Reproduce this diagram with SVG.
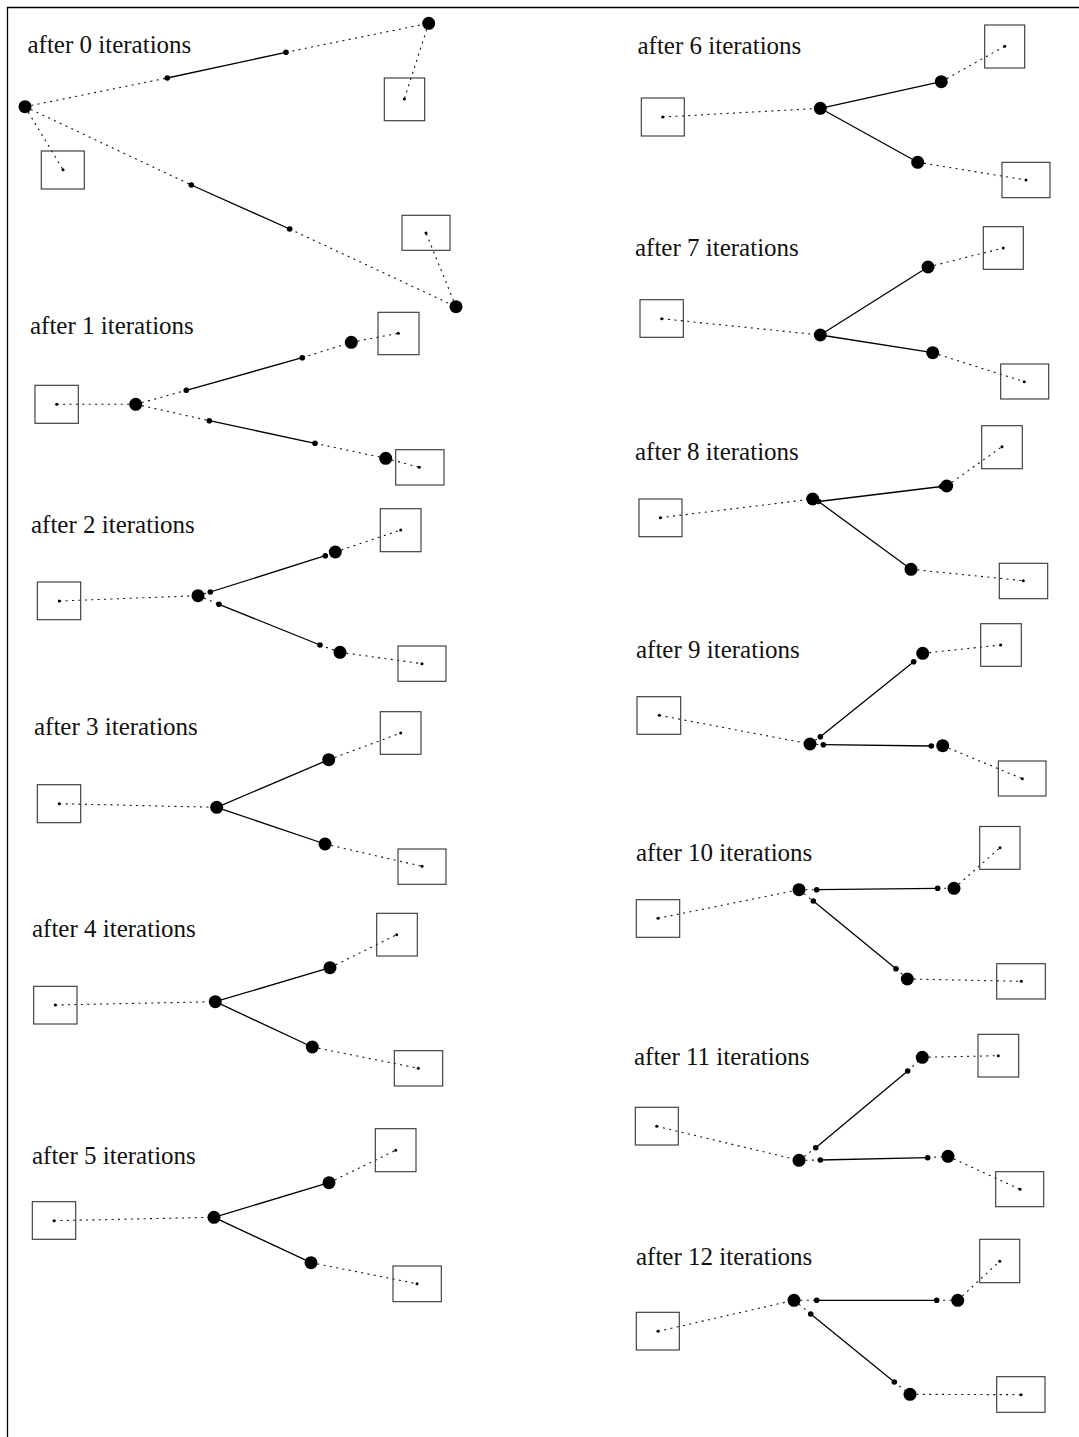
<svg xmlns="http://www.w3.org/2000/svg" width="1079" height="1437" viewBox="0 0 1079 1437">
  <style>
    .bg { fill: #ffffff; }
    .frame { fill: none; stroke: #000; stroke-width: 1.3; }
    .title { font-family: "Liberation Serif", "Times New Roman", serif; font-size: 25px; fill: #111; }
    .dot { fill: none; stroke: #111; stroke-width: 1.1; stroke-dasharray: 2 4.4; }
    .wire { fill: none; stroke: #000; stroke-width: 1.3; }
    .pin { fill: none; stroke: #333; stroke-width: 1.1; }
    .pd { fill: #000; }
    .sp { fill: #000; }
    .bd { fill: #000; }
  </style>
  <rect class="bg" x="0" y="0" width="1079" height="1437"/>
  <path class="frame" d="M7.5 1437 V7.5 H1079"/>

  <!-- iteration 0 -->
  <g id="iter0">
    <text class="title" x="27.5" y="52.5">after 0 iterations</text>
    <g id="iter0-connectors">
      <line class="dot" x1="25" y1="106.7" x2="167.3" y2="78"/>
      <line class="wire" x1="167.3" y1="78" x2="286" y2="52.3"/>
      <line class="dot" x1="286" y1="52.3" x2="428.7" y2="23.3"/>
      <line class="dot" x1="428.7" y1="23.3" x2="404.3" y2="99"/>
      <line class="dot" x1="25" y1="106.7" x2="63" y2="169.7"/>
      <line class="dot" x1="25" y1="106.7" x2="191.3" y2="185"/>
      <line class="wire" x1="191.3" y1="185" x2="289.7" y2="229"/>
      <line class="dot" x1="289.7" y1="229" x2="456" y2="306.7"/>
      <line class="dot" x1="456" y1="306.7" x2="426" y2="233"/>
    </g>
    <g id="iter0-pin-a"><rect class="pin" x="41.3" y="151" width="43" height="38"/><circle class="pd" cx="63" cy="169.7" r="1.5"/></g>
    <g id="iter0-pin-b"><rect class="pin" x="384.3" y="78" width="40.4" height="42.7"/><circle class="pd" cx="404.3" cy="99" r="1.5"/></g>
    <g id="iter0-pin-c"><rect class="pin" x="402" y="215.3" width="48" height="35"/><circle class="pd" cx="426" cy="233" r="1.5"/></g>
    <g id="iter0-s1"><circle class="sp" cx="25" cy="106.7" r="6.5"/></g>
    <g id="iter0-s2"><circle class="sp" cx="428.7" cy="23.3" r="6.5"/></g>
    <g id="iter0-s3"><circle class="sp" cx="456" cy="306.7" r="6.5"/></g>
    <g id="iter0-bends">
      <circle class="bd" cx="167.3" cy="78" r="2.8"/>
      <circle class="bd" cx="286" cy="52.3" r="2.8"/>
      <circle class="bd" cx="191.3" cy="185" r="2.8"/>
      <circle class="bd" cx="289.7" cy="229" r="2.8"/>
    </g>
  </g>

  <!-- iteration 1 -->
  <g id="iter1">
    <text class="title" x="30" y="333.5">after 1 iterations</text>
    <g id="iter1-connectors">
      <line class="dot" x1="56.7" y1="404.3" x2="135.7" y2="404.3"/>
      <line class="dot" x1="135.7" y1="404.3" x2="186.3" y2="390.3"/>
      <line class="wire" x1="186.3" y1="390.3" x2="302.3" y2="357.7"/>
      <line class="dot" x1="302.3" y1="357.7" x2="351.3" y2="342.3"/>
      <line class="dot" x1="351.3" y1="342.3" x2="398.3" y2="333.3"/>
      <line class="dot" x1="135.7" y1="404.3" x2="209.3" y2="420.7"/>
      <line class="wire" x1="209.3" y1="420.7" x2="315" y2="443.3"/>
      <line class="dot" x1="315" y1="443.3" x2="385.7" y2="458.3"/>
      <line class="dot" x1="385.7" y1="458.3" x2="419.3" y2="467.3"/>
    </g>
    <g id="iter1-pin-a"><rect class="pin" x="35" y="385.3" width="43.3" height="38"/><circle class="pd" cx="56.7" cy="404.3" r="1.5"/></g>
    <g id="iter1-pin-b"><rect class="pin" x="378" y="312.3" width="41" height="42.4"/><circle class="pd" cx="398.3" cy="333.3" r="1.5"/></g>
    <g id="iter1-pin-c"><rect class="pin" x="395.7" y="449.7" width="48.3" height="35.3"/><circle class="pd" cx="419.3" cy="467.3" r="1.5"/></g>
    <g id="iter1-s1"><circle class="sp" cx="135.7" cy="404.3" r="6.5"/></g>
    <g id="iter1-s2"><circle class="sp" cx="351.3" cy="342.3" r="6.5"/></g>
    <g id="iter1-s3"><circle class="sp" cx="385.7" cy="458.3" r="6.5"/></g>
    <g id="iter1-bends">
      <circle class="bd" cx="186.3" cy="390.3" r="2.8"/>
      <circle class="bd" cx="302.3" cy="357.7" r="2.8"/>
      <circle class="bd" cx="209.3" cy="420.7" r="2.8"/>
      <circle class="bd" cx="315" cy="443.3" r="2.8"/>
    </g>
  </g>

  <!-- iteration 2 -->
  <g id="iter2">
    <text class="title" x="31" y="532.5">after 2 iterations</text>
    <g id="iter2-connectors">
      <line class="dot" x1="59.3" y1="601" x2="198" y2="595.7"/>
      <line class="dot" x1="198" y1="595.7" x2="210.3" y2="592"/>
      <line class="wire" x1="210.3" y1="592" x2="325.3" y2="555.7"/>
      <line class="dot" x1="325.3" y1="555.7" x2="335.3" y2="552"/>
      <line class="dot" x1="335.3" y1="552" x2="400.7" y2="530"/>
      <line class="dot" x1="198" y1="595.7" x2="219" y2="604.3"/>
      <line class="wire" x1="219" y1="604.3" x2="320" y2="645"/>
      <line class="dot" x1="320" y1="645" x2="340" y2="652.3"/>
      <line class="dot" x1="340" y1="652.3" x2="422" y2="663.7"/>
    </g>
    <g id="iter2-pin-a"><rect class="pin" x="37.3" y="582" width="43.4" height="37.7"/><circle class="pd" cx="59.3" cy="601" r="1.5"/></g>
    <g id="iter2-pin-b"><rect class="pin" x="380.3" y="508.7" width="40.7" height="43"/><circle class="pd" cx="400.7" cy="530" r="1.5"/></g>
    <g id="iter2-pin-c"><rect class="pin" x="398" y="646" width="48" height="35.3"/><circle class="pd" cx="422" cy="663.7" r="1.5"/></g>
    <g id="iter2-s1"><circle class="sp" cx="198" cy="595.7" r="6.5"/></g>
    <g id="iter2-s2"><circle class="sp" cx="335.3" cy="552" r="6.5"/></g>
    <g id="iter2-s3"><circle class="sp" cx="340" cy="652.3" r="6.5"/></g>
    <g id="iter2-bends">
      <circle class="bd" cx="210.3" cy="592" r="2.8"/>
      <circle class="bd" cx="325.3" cy="555.7" r="2.8"/>
      <circle class="bd" cx="219" cy="604.3" r="2.8"/>
      <circle class="bd" cx="320" cy="645" r="2.8"/>
    </g>
  </g>

  <!-- iteration 3 -->
  <g id="iter3">
    <text class="title" x="34" y="734.5">after 3 iterations</text>
    <g id="iter3-connectors">
      <line class="dot" x1="59.3" y1="803.7" x2="216.7" y2="807.3"/>
      <line class="wire" x1="216.7" y1="807.3" x2="328.7" y2="759.7"/>
      <line class="dot" x1="328.7" y1="759.7" x2="400.7" y2="733"/>
      <line class="wire" x1="216.7" y1="807.3" x2="325" y2="844"/>
      <line class="dot" x1="325" y1="844" x2="422" y2="866.3"/>
    </g>
    <g id="iter3-pin-a"><rect class="pin" x="37.3" y="784.7" width="43.4" height="38"/><circle class="pd" cx="59.3" cy="803.7" r="1.5"/></g>
    <g id="iter3-pin-b"><rect class="pin" x="380.3" y="711.7" width="40.7" height="42.6"/><circle class="pd" cx="400.7" cy="733" r="1.5"/></g>
    <g id="iter3-pin-c"><rect class="pin" x="398" y="849" width="48" height="35.3"/><circle class="pd" cx="422" cy="866.3" r="1.5"/></g>
    <g id="iter3-s1"><circle class="sp" cx="216.7" cy="807.3" r="6.5"/></g>
    <g id="iter3-s2"><circle class="sp" cx="328.7" cy="759.7" r="6.5"/></g>
    <g id="iter3-s3"><circle class="sp" cx="325" cy="844" r="6.5"/></g>
  </g>

  <!-- iteration 4 -->
  <g id="iter4">
    <text class="title" x="32" y="937">after 4 iterations</text>
    <g id="iter4-connectors">
      <line class="dot" x1="55.3" y1="1005" x2="215.3" y2="1001.7"/>
      <line class="wire" x1="215.3" y1="1001.7" x2="330" y2="967.7"/>
      <line class="dot" x1="330" y1="967.7" x2="396.7" y2="934.7"/>
      <line class="wire" x1="215.3" y1="1001.7" x2="312.3" y2="1047"/>
      <line class="dot" x1="312.3" y1="1047" x2="418.3" y2="1068.3"/>
    </g>
    <g id="iter4-pin-a"><rect class="pin" x="33.7" y="986.3" width="43.3" height="37.7"/><circle class="pd" cx="55.3" cy="1005" r="1.5"/></g>
    <g id="iter4-pin-b"><rect class="pin" x="376.7" y="913.3" width="40.6" height="42.7"/><circle class="pd" cx="396.7" cy="934.7" r="1.5"/></g>
    <g id="iter4-pin-c"><rect class="pin" x="394.3" y="1050.7" width="48.4" height="35.3"/><circle class="pd" cx="418.3" cy="1068.3" r="1.5"/></g>
    <g id="iter4-s1"><circle class="sp" cx="215.3" cy="1001.7" r="6.5"/></g>
    <g id="iter4-s2"><circle class="sp" cx="330" cy="967.7" r="6.5"/></g>
    <g id="iter4-s3"><circle class="sp" cx="312.3" cy="1047" r="6.5"/></g>
  </g>

  <!-- iteration 5 -->
  <g id="iter5">
    <text class="title" x="32" y="1163.5">after 5 iterations</text>
    <g id="iter5-connectors">
      <line class="dot" x1="54" y1="1220.7" x2="214" y2="1217.3"/>
      <line class="wire" x1="214" y1="1217.3" x2="329" y2="1182.7"/>
      <line class="dot" x1="329" y1="1182.7" x2="395.7" y2="1150.3"/>
      <line class="wire" x1="214" y1="1217.3" x2="311" y2="1262.7"/>
      <line class="dot" x1="311" y1="1262.7" x2="417" y2="1283.7"/>
    </g>
    <g id="iter5-pin-a"><rect class="pin" x="32.3" y="1201.7" width="43.4" height="37.6"/><circle class="pd" cx="54" cy="1220.7" r="1.5"/></g>
    <g id="iter5-pin-b"><rect class="pin" x="375.3" y="1128.7" width="40.7" height="43"/><circle class="pd" cx="395.7" cy="1150.3" r="1.5"/></g>
    <g id="iter5-pin-c"><rect class="pin" x="393" y="1266" width="48.3" height="35.7"/><circle class="pd" cx="417" cy="1283.7" r="1.5"/></g>
    <g id="iter5-s1"><circle class="sp" cx="214" cy="1217.3" r="6.5"/></g>
    <g id="iter5-s2"><circle class="sp" cx="329" cy="1182.7" r="6.5"/></g>
    <g id="iter5-s3"><circle class="sp" cx="311" cy="1262.7" r="6.5"/></g>
  </g>

  <!-- iteration 6 -->
  <g id="iter6">
    <text class="title" x="637.5" y="53.5">after 6 iterations</text>
    <g id="iter6-connectors">
      <line class="dot" x1="662.7" y1="117" x2="820.3" y2="108.3"/>
      <line class="wire" x1="820.3" y1="108.3" x2="941.3" y2="81.7"/>
      <line class="dot" x1="941.3" y1="81.7" x2="1004.7" y2="46.3"/>
      <line class="wire" x1="820.3" y1="108.3" x2="917.7" y2="162.3"/>
      <line class="dot" x1="917.7" y1="162.3" x2="1026" y2="180"/>
    </g>
    <g id="iter6-pin-a"><rect class="pin" x="641.3" y="98" width="43" height="38"/><circle class="pd" cx="662.7" cy="117" r="1.5"/></g>
    <g id="iter6-pin-b"><rect class="pin" x="984.7" y="25" width="40" height="43"/><circle class="pd" cx="1004.7" cy="46.3" r="1.5"/></g>
    <g id="iter6-pin-c"><rect class="pin" x="1002" y="162.3" width="48" height="35.4"/><circle class="pd" cx="1026" cy="180" r="1.5"/></g>
    <g id="iter6-s1"><circle class="sp" cx="820.3" cy="108.3" r="6.5"/></g>
    <g id="iter6-s2"><circle class="sp" cx="941.3" cy="81.7" r="6.5"/></g>
    <g id="iter6-s3"><circle class="sp" cx="917.7" cy="162.3" r="6.5"/></g>
  </g>

  <!-- iteration 7 -->
  <g id="iter7">
    <text class="title" x="635" y="256">after 7 iterations</text>
    <g id="iter7-connectors">
      <line class="dot" x1="661.7" y1="318.7" x2="820.3" y2="335"/>
      <line class="wire" x1="820.3" y1="335" x2="928" y2="267"/>
      <line class="dot" x1="928" y1="267" x2="1003.3" y2="248"/>
      <line class="wire" x1="820.3" y1="335" x2="932.7" y2="352.7"/>
      <line class="dot" x1="932.7" y1="352.7" x2="1024.3" y2="381.7"/>
    </g>
    <g id="iter7-pin-a"><rect class="pin" x="640" y="299.7" width="43.3" height="37.6"/><circle class="pd" cx="661.7" cy="318.7" r="1.5"/></g>
    <g id="iter7-pin-b"><rect class="pin" x="983.3" y="226.7" width="40" height="42.6"/><circle class="pd" cx="1003.3" cy="248" r="1.5"/></g>
    <g id="iter7-pin-c"><rect class="pin" x="1000.7" y="364" width="48" height="35"/><circle class="pd" cx="1024.3" cy="381.7" r="1.5"/></g>
    <g id="iter7-s1"><circle class="sp" cx="820.3" cy="335" r="6.5"/></g>
    <g id="iter7-s2"><circle class="sp" cx="928" cy="267" r="6.5"/></g>
    <g id="iter7-s3"><circle class="sp" cx="932.7" cy="352.7" r="6.5"/></g>
  </g>

  <!-- iteration 8 -->
  <g id="iter8">
    <text class="title" x="635" y="459.5">after 8 iterations</text>
    <g id="iter8-connectors">
      <line class="dot" x1="660.3" y1="517.7" x2="812.7" y2="499"/>
      <line class="wire" x1="818.5" y1="501.5" x2="941.5" y2="486.5"/>
      <line class="dot" x1="946.7" y1="486" x2="1002" y2="446.7"/>
      <line class="wire" x1="818.5" y1="501.5" x2="911" y2="569.3"/>
      <line class="dot" x1="911" y1="569.3" x2="1023.3" y2="580.7"/>
    </g>
    <g id="iter8-pin-a"><rect class="pin" x="639" y="499" width="43" height="37.7"/><circle class="pd" cx="660.3" cy="517.7" r="1.5"/></g>
    <g id="iter8-pin-b"><rect class="pin" x="981.7" y="425.7" width="40.6" height="43"/><circle class="pd" cx="1002" cy="446.7" r="1.5"/></g>
    <g id="iter8-pin-c"><rect class="pin" x="999.3" y="563.3" width="48.4" height="35.4"/><circle class="pd" cx="1023.3" cy="580.7" r="1.5"/></g>
    <g id="iter8-s1"><circle class="sp" cx="812.7" cy="499" r="6.5"/></g>
    <g id="iter8-s2"><circle class="sp" cx="946.7" cy="486" r="6.5"/></g>
    <g id="iter8-s3"><circle class="sp" cx="911" cy="569.3" r="6.5"/></g>
    <g id="iter8-bends">
      <circle class="bd" cx="818.5" cy="501.5" r="2.8"/>
      <circle class="bd" cx="941.5" cy="486.5" r="2.8"/>
    </g>
  </g>

  <!-- iteration 9 -->
  <g id="iter9">
    <text class="title" x="636" y="658">after 9 iterations</text>
    <g id="iter9-connectors">
      <line class="dot" x1="659.3" y1="715.3" x2="810" y2="744"/>
      <line class="dot" x1="810" y1="744" x2="820.3" y2="736.7"/>
      <line class="wire" x1="820.3" y1="736.7" x2="913.7" y2="661.7"/>
      <line class="dot" x1="913.7" y1="661.7" x2="922.7" y2="653.3"/>
      <line class="dot" x1="922.7" y1="653.3" x2="1000.7" y2="645"/>
      <line class="dot" x1="810" y1="744" x2="823.3" y2="744.7"/>
      <line class="wire" x1="823.3" y1="744.7" x2="931.3" y2="746"/>
      <line class="dot" x1="931.3" y1="746" x2="942.7" y2="745.7"/>
      <line class="dot" x1="942.7" y1="745.7" x2="1022.3" y2="778.7"/>
    </g>
    <g id="iter9-pin-a"><rect class="pin" x="637" y="696.7" width="43.7" height="37.6"/><circle class="pd" cx="659.3" cy="715.3" r="1.5"/></g>
    <g id="iter9-pin-b"><rect class="pin" x="980.7" y="623.7" width="40.6" height="42.6"/><circle class="pd" cx="1000.7" cy="645" r="1.5"/></g>
    <g id="iter9-pin-c"><rect class="pin" x="998.3" y="761" width="47.7" height="35"/><circle class="pd" cx="1022.3" cy="778.7" r="1.5"/></g>
    <g id="iter9-s1"><circle class="sp" cx="810" cy="744" r="6.5"/></g>
    <g id="iter9-s2"><circle class="sp" cx="922.7" cy="653.3" r="6.5"/></g>
    <g id="iter9-s3"><circle class="sp" cx="942.7" cy="745.7" r="6.5"/></g>
    <g id="iter9-bends">
      <circle class="bd" cx="820.3" cy="736.7" r="2.8"/>
      <circle class="bd" cx="823.3" cy="744.7" r="2.8"/>
      <circle class="bd" cx="913.7" cy="661.7" r="2.8"/>
      <circle class="bd" cx="931.3" cy="746" r="2.8"/>
    </g>
  </g>

  <!-- iteration 10 -->
  <g id="iter10">
    <text class="title" x="636" y="861">after 10 iterations</text>
    <g id="iter10-connectors">
      <line class="dot" x1="658" y1="918.3" x2="799" y2="889.7"/>
      <line class="dot" x1="799" y1="889.7" x2="816.7" y2="889.7"/>
      <line class="wire" x1="816.7" y1="889.7" x2="937.7" y2="888.3"/>
      <line class="dot" x1="937.7" y1="888.3" x2="954" y2="888.3"/>
      <line class="dot" x1="954" y1="888.3" x2="1000" y2="847.7"/>
      <line class="dot" x1="799" y1="889.7" x2="813.3" y2="901"/>
      <line class="wire" x1="813.3" y1="901" x2="896" y2="968.7"/>
      <line class="dot" x1="896" y1="968.7" x2="907.3" y2="979"/>
      <line class="dot" x1="907.3" y1="979" x2="1021.3" y2="981.3"/>
    </g>
    <g id="iter10-pin-a"><rect class="pin" x="636.3" y="899.7" width="43.4" height="37.6"/><circle class="pd" cx="658" cy="918.3" r="1.5"/></g>
    <g id="iter10-pin-b"><rect class="pin" x="979.7" y="826.5" width="40.3" height="42.8"/><circle class="pd" cx="1000" cy="847.7" r="1.5"/></g>
    <g id="iter10-pin-c"><rect class="pin" x="996.7" y="963.7" width="48.6" height="35.3"/><circle class="pd" cx="1021.3" cy="981.3" r="1.5"/></g>
    <g id="iter10-s1"><circle class="sp" cx="799" cy="889.7" r="6.5"/></g>
    <g id="iter10-s2"><circle class="sp" cx="954" cy="888.3" r="6.5"/></g>
    <g id="iter10-s3"><circle class="sp" cx="907.3" cy="979" r="6.5"/></g>
    <g id="iter10-bends">
      <circle class="bd" cx="816.7" cy="889.7" r="2.8"/>
      <circle class="bd" cx="813.3" cy="901" r="2.8"/>
      <circle class="bd" cx="937.7" cy="888.3" r="2.8"/>
      <circle class="bd" cx="896" cy="968.7" r="2.8"/>
    </g>
  </g>

  <!-- iteration 11 -->
  <g id="iter11">
    <text class="title" x="634" y="1064.5">after 11 iterations</text>
    <g id="iter11-connectors">
      <line class="dot" x1="656.7" y1="1126.3" x2="799" y2="1160.3"/>
      <line class="dot" x1="799" y1="1160.3" x2="815.7" y2="1147.7"/>
      <line class="wire" x1="815.7" y1="1147.7" x2="907.7" y2="1071"/>
      <line class="dot" x1="907.7" y1="1071" x2="922.3" y2="1057.3"/>
      <line class="dot" x1="922.3" y1="1057.3" x2="998.3" y2="1055.7"/>
      <line class="dot" x1="799" y1="1160.3" x2="820.3" y2="1160"/>
      <line class="wire" x1="820.3" y1="1160" x2="927.7" y2="1157.7"/>
      <line class="dot" x1="927.7" y1="1157.7" x2="948" y2="1156.3"/>
      <line class="dot" x1="948" y1="1156.3" x2="1020" y2="1189.3"/>
    </g>
    <g id="iter11-pin-a"><rect class="pin" x="635.3" y="1107.3" width="43" height="37.7"/><circle class="pd" cx="656.7" cy="1126.3" r="1.5"/></g>
    <g id="iter11-pin-b"><rect class="pin" x="978" y="1034.3" width="40.7" height="42.7"/><circle class="pd" cx="998.3" cy="1055.7" r="1.5"/></g>
    <g id="iter11-pin-c"><rect class="pin" x="995.7" y="1171.7" width="48" height="35"/><circle class="pd" cx="1020" cy="1189.3" r="1.5"/></g>
    <g id="iter11-s1"><circle class="sp" cx="799" cy="1160.3" r="6.5"/></g>
    <g id="iter11-s2"><circle class="sp" cx="922.3" cy="1057.3" r="6.5"/></g>
    <g id="iter11-s3"><circle class="sp" cx="948" cy="1156.3" r="6.5"/></g>
    <g id="iter11-bends">
      <circle class="bd" cx="815.7" cy="1147.7" r="2.8"/>
      <circle class="bd" cx="820.3" cy="1160" r="2.8"/>
      <circle class="bd" cx="907.7" cy="1071" r="2.8"/>
      <circle class="bd" cx="927.7" cy="1157.7" r="2.8"/>
    </g>
  </g>

  <!-- iteration 12 -->
  <g id="iter12">
    <text class="title" x="636" y="1264.5">after 12 iterations</text>
    <g id="iter12-connectors">
      <line class="dot" x1="658" y1="1331.3" x2="794" y2="1300.3"/>
      <line class="dot" x1="794" y1="1300.3" x2="816.7" y2="1300.3"/>
      <line class="wire" x1="816.7" y1="1300.3" x2="936.7" y2="1300.3"/>
      <line class="dot" x1="936.7" y1="1300.3" x2="957.7" y2="1300.3"/>
      <line class="dot" x1="957.7" y1="1300.3" x2="999.7" y2="1261.3"/>
      <line class="dot" x1="794" y1="1300.3" x2="810.7" y2="1314"/>
      <line class="wire" x1="810.7" y1="1314" x2="894.3" y2="1382"/>
      <line class="dot" x1="894.3" y1="1382" x2="910" y2="1394.3"/>
      <line class="dot" x1="910" y1="1394.3" x2="1021" y2="1394.7"/>
    </g>
    <g id="iter12-pin-a"><rect class="pin" x="636.3" y="1312.3" width="43" height="37.7"/><circle class="pd" cx="658" cy="1331.3" r="1.5"/></g>
    <g id="iter12-pin-b"><rect class="pin" x="979.7" y="1239.3" width="40" height="43.4"/><circle class="pd" cx="999.7" cy="1261.3" r="1.5"/></g>
    <g id="iter12-pin-c"><rect class="pin" x="996.7" y="1376.7" width="48.3" height="35.6"/><circle class="pd" cx="1021" cy="1394.7" r="1.5"/></g>
    <g id="iter12-s1"><circle class="sp" cx="794" cy="1300.3" r="6.5"/></g>
    <g id="iter12-s2"><circle class="sp" cx="957.7" cy="1300.3" r="6.5"/></g>
    <g id="iter12-s3"><circle class="sp" cx="910" cy="1394.3" r="6.5"/></g>
    <g id="iter12-bends">
      <circle class="bd" cx="816.7" cy="1300.3" r="2.8"/>
      <circle class="bd" cx="810.7" cy="1314" r="2.8"/>
      <circle class="bd" cx="936.7" cy="1300.3" r="2.8"/>
      <circle class="bd" cx="894.3" cy="1382" r="2.8"/>
    </g>
  </g>
</svg>
